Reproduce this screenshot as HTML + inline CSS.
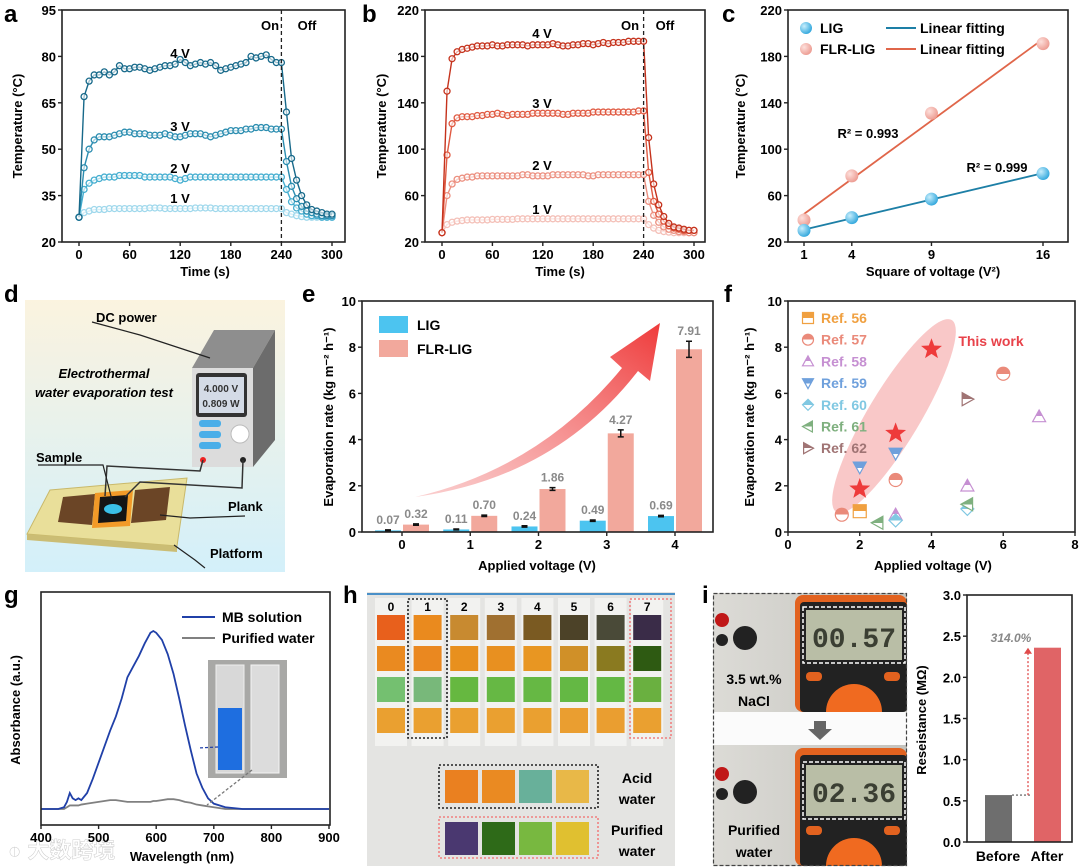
<!DOCTYPE html>
<html><head><meta charset="utf-8"><title>Figure</title>
<style>
html,body{margin:0;padding:0;background:#fff;}
svg{display:block;font-family:"Liberation Sans","Noto Sans CJK SC",sans-serif;}
text{font-weight:bold;}
</style></head>
<body>
<svg id="fig" width="1080" height="867" viewBox="0 0 1080 867" xmlns="http://www.w3.org/2000/svg">
<defs>
<radialGradient id="ballBlue" cx="0.35" cy="0.35" r="0.7"><stop offset="0" stop-color="#c8eefc"/><stop offset="1" stop-color="#2fa6dc"/></radialGradient>
<radialGradient id="ballRed" cx="0.35" cy="0.35" r="0.7"><stop offset="0" stop-color="#fde0dc"/><stop offset="1" stop-color="#ec9a90"/></radialGradient>
<linearGradient id="bgD" x1="0" y1="0" x2="0" y2="1"><stop offset="0" stop-color="#fbf3df"/><stop offset="1" stop-color="#d3f0fa"/></linearGradient>
<linearGradient id="arrowG" x1="0" y1="1" x2="1" y2="0"><stop offset="0" stop-color="#f7b0b0" stop-opacity="0.6"/><stop offset="1" stop-color="#ef3a3a"/></linearGradient>
<linearGradient id="photoI" x1="0" y1="0" x2="1" y2="0"><stop offset="0" stop-color="#dcdbd6"/><stop offset="1" stop-color="#c4c3be"/></linearGradient>
</defs>

<text x="4" y="22" font-size="24">a</text>
<text x="362" y="22" font-size="24">b</text>
<text x="722" y="22" font-size="24">c</text>
<text x="4" y="302" font-size="24">d</text>
<text x="302" y="302" font-size="24">e</text>
<text x="724" y="302" font-size="24">f</text>
<text x="4" y="603" font-size="24">g</text>
<text x="343" y="603" font-size="24">h</text>
<text x="702" y="603" font-size="24">i</text>

<g>
<rect x="25" y="300" width="260" height="272" fill="url(#bgD)"/>
<polygon points="50,490 187,478 177,546 27,534" fill="#e9df9a" stroke="#c9b96a"/>
<polygon points="27,534 177,546 177,552 27,540" fill="#cbbd74"/>
<polygon points="63,497 95,494 92,525 58,522" fill="#6b4526"/>
<polygon points="135,490 170,487 166,520 131,523" fill="#6b4526"/>
<polygon points="95,493 133,490 130,526 92,528" fill="#f29a28"/>
<polygon points="100,497 128,495 126,521 98,523" fill="#151515"/>
<ellipse cx="113" cy="509" rx="9" ry="5" fill="#3ac0e8"/>
<polygon points="192,368 253,368 275,330 214,330" fill="#8e8e8e"/>
<polygon points="253,368 275,330 275,440 253,467" fill="#6c6c6c"/>
<rect x="192" y="368" width="61" height="99" fill="#dcdcdc"/>
<rect x="196" y="373" width="51" height="44" rx="3" fill="#333"/>
<rect x="199" y="377" width="45" height="36" fill="#d4dbe6"/>
<text x="221" y="392" font-size="10" font-weight="normal" text-anchor="middle" fill="#333">4.000 V</text>
<text x="221" y="407" font-size="10" font-weight="normal" text-anchor="middle" fill="#333">0.809 W</text>
<rect x="199" y="420" width="22" height="7" rx="3" fill="#4aaee8"/>
<rect x="199" y="431" width="22" height="7" rx="3" fill="#4aaee8"/>
<rect x="199" y="442" width="22" height="7" rx="3" fill="#4aaee8"/>
<circle cx="240" cy="434" r="9" fill="#fff" stroke="#bbb"/>
<circle cx="203" cy="460" r="3" fill="#e22"/>
<circle cx="243" cy="460" r="3" fill="#222"/>
<polyline points="203,460 200,471 107,466 105,496" fill="none" stroke="#333" stroke-width="1.5"/>
<polyline points="243,460 242,488 140,482 125,497" fill="none" stroke="#333" stroke-width="1.5"/>
<polyline points="92,322 140,335 210,358" fill="none" stroke="#222" stroke-width="1.2"/>
<polyline points="38,465 103,465 112,500" fill="none" stroke="#222" stroke-width="1.2"/>
<polyline points="245,516 190,518 160,515" fill="none" stroke="#222" stroke-width="1.2"/>
<polyline points="205,568 195,560 174,545" fill="none" stroke="#222" stroke-width="1.2"/>
<text x="96" y="322" font-size="13">DC power</text>
<text x="104" y="378" font-size="13" font-style="italic" text-anchor="middle">Electrothermal</text>
<text x="104" y="397" font-size="13" font-style="italic" text-anchor="middle">water evaporation test</text>
<text x="36" y="462" font-size="13">Sample</text>
<text x="228" y="511" font-size="13">Plank</text>
<text x="210" y="558" font-size="13">Platform</text>
</g>

<g id="photoH">
<rect x="367" y="592" width="308" height="274" fill="#e4e4e2"/>
<line x1="367" y1="594" x2="675" y2="594" stroke="#4a90c8" stroke-width="2"/>
</g>

<g>
<rect x="713" y="593" width="194" height="273" fill="url(#photoI)"/>
<rect x="713" y="712" width="194" height="33" fill="#fbfbfb"/>
<polygon points="814,721 826,721 826,729 832,729 820,740 808,729 814,729" fill="#666"/>
<g>
<rect x="795" y="595" width="112" height="117" rx="8" fill="#e2621f"/>
<rect x="800" y="602" width="107" height="110" rx="4" fill="#222"/>
<rect x="806" y="610" width="96" height="50" fill="#b9bea6"/>
<rect x="803" y="607" width="102" height="56" fill="none" stroke="#fff" stroke-width="1.5" stroke-dasharray="4,2"/>
<text x="854" y="647" font-size="28" font-weight="normal" text-anchor="middle" fill="#3b3f33" font-family="Liberation Mono, monospace">00.57</text>
<rect x="806" y="672" width="16" height="9" rx="4" fill="#e2621f"/>
<rect x="884" y="672" width="16" height="9" rx="4" fill="#e2621f"/>
<path d="M826,712 A28,28 0 0 1 882,712 Z" fill="#f06a20"/>
<circle cx="745" cy="638" r="12" fill="#222"/><circle cx="722" cy="620" r="7" fill="#c01818"/><circle cx="722" cy="640" r="6" fill="#222"/>
</g>
<g>
<rect x="795" y="748" width="112" height="118" rx="8" fill="#e2621f"/>
<rect x="800" y="755" width="107" height="111" rx="4" fill="#222"/>
<rect x="806" y="765" width="96" height="51" fill="#b9bea6"/>
<rect x="803" y="762" width="102" height="57" fill="none" stroke="#fff" stroke-width="1.5" stroke-dasharray="4,2"/>
<text x="854" y="802" font-size="28" font-weight="normal" text-anchor="middle" fill="#3b3f33" font-family="Liberation Mono, monospace">02.36</text>
<rect x="806" y="826" width="16" height="9" rx="4" fill="#e2621f"/>
<rect x="884" y="826" width="16" height="9" rx="4" fill="#e2621f"/>
<path d="M826,866 A28,28 0 0 1 882,866 Z" fill="#f06a20"/>
<circle cx="745" cy="792" r="12" fill="#222"/><circle cx="722" cy="774" r="7" fill="#c01818"/><circle cx="722" cy="794" r="6" fill="#222"/>
</g>
<text x="754" y="684" font-size="14" text-anchor="middle">3.5 wt.%</text>
<text x="754" y="706" font-size="14" text-anchor="middle">NaCl</text>
<text x="754" y="835" font-size="14" text-anchor="middle">Purified</text>
<text x="754" y="857" font-size="14" text-anchor="middle">water</text>
<rect x="713.5" y="593.5" width="193" height="272" fill="none" stroke="#444" stroke-width="1.2" stroke-dasharray="4,2"/>
</g>

<text x="8" y="858" font-size="22" fill="#fff" fill-opacity="0.85" stroke="#ccc" stroke-width="0.5">◐ 大数跨境</text>
</svg>

<script>
const NS='http://www.w3.org/2000/svg';
const svg=document.getElementById('fig');
function mk(tag,attrs,parent){const e=document.createElementNS(NS,tag);for(const k in attrs)e.setAttribute(k,attrs[k]);(parent||svg).appendChild(e);return e;}
function txt(x,y,s,attrs,parent){const e=mk('text',Object.assign({x:x,y:y},attrs||{}),parent);e.textContent=s;return e;}
function lin(d0,d1,r0,r1){return v=>r0+(v-d0)*(r1-r0)/(d1-d0);}

const timeS=Array.from({length:51},(_,i)=>i*6);
const aTemp4=[28,67,72,74,74,75,74,75,77,76,76,76.5,76.5,76,75.5,76,76.5,77,77,77.5,79,78,77,77.5,78,77.5,78,77,75.5,76,76.5,77,77.5,78,80,79.5,80,80.5,79,78,78,62,47,40,35,32,30.5,30,29.5,29,29];
const aTemp3=[28,44,50,53,54,54,54,54.5,55,55.5,55.5,55,55,55,54.5,54.5,54.5,55,54.5,54,54,54.5,55,55,55,54.5,54,54.5,55,55.5,56,56,56,56.5,56.5,57,57,57,56.5,56.5,56.5,46,38,34,31.5,30,29.5,29,28.5,28.5,28.5];
const aTemp2=[28,37,39,40,40.5,41,41,41,41.5,41.5,41.5,41.5,41.5,41,41,41,41,41,41,40.5,40,40.5,41,41,41,41,41,41,41,41,41,41,41,41,41,41,41,41,41,41,41,37,33,31,30,29,28.5,28.5,28,28,28];
const aTemp1=[28,29.5,30,30.5,30.5,30.5,30.8,30.8,30.8,30.8,30.8,30.8,30.8,30.8,31,31,31,30.8,30.8,30.8,30.8,30.8,30.8,31,31,31,31,30.8,30.8,30.8,30.8,30.8,30.8,30.8,30.8,30.8,30.8,30.8,30.8,30.8,30.8,29.5,29,28.5,28.2,28,28,28,28,28,28];
const bTemp4=[28,150,178,184,186,187,188,189,189,189,190,189,189,190,190,190,190,189,190,190,190,190,191,190,189,189,190,190,191,191,190,191,192,191,192,192,192,193,193,193,193,110,70,52,42,36,33,32,31,30,30];
const bTemp3=[28,95,122,127,128,128,128,129,129,130,130,131,130,129,130,130,130,130,131,131,131,131,131,131,130,130,131,131,131,131,132,132,132,132,132,132,132,132,132,133,133,80,55,44,38,34,32,31,30,30,30];
const bTemp2=[28,60,70,74,75,76,76,77,77,77,77,77,77,77,77,77,78,78,77,77,77,77,78,78,78,78,78,78,78,77,77,78,78,78,78,78,78,78,78,78,78,55,43,37,33,31,30,29,29,28,28];
const bTemp1=[28,35,37,38,38.5,39,39,39,39,39,39.5,39.5,39.5,39.5,39.5,40,40,40,40,40,40,40,40,40,40,40,40,40,40,40,40,40,40,40,40,40,40,40,40,40,40,35,32,30,29,28.5,28,28,28,28,28];
const tempTicksA=[20,35,50,65,80,95];
const tempTicksB=[20,60,100,140,180,220];
const timeTicks=[0,60,120,180,240,300];
const sqV=[1,4,9,16];
const ligTemp=[30,41,57,79];
const flrTemp=[39,77,131,191];
const voltCats=[0,1,2,3,4];
const ligRate=[0.07,0.11,0.24,0.49,0.69];
const flrRate=[0.32,0.70,1.86,4.27,7.91];
const ligErr=[0.02,0.02,0.03,0.03,0.03];
const flrErr=[0.03,0.03,0.06,0.15,0.35];
const rateTicks=[0,2,4,6,8,10];
const voltTicksF=[0,2,4,6,8];
const refNames=['Ref. 56','Ref. 57','Ref. 58','Ref. 59','Ref. 60','Ref. 61','Ref. 62'];
const refVolt=[[2],[1.5,3,6],[3,5,7],[2,3],[3,5],[2.5,5],[5]];
const refRate=[[0.9],[0.75,2.25,6.85],[0.75,2,5],[2.8,3.4],[0.5,1.0],[0.4,1.2],[5.75]];
const thisVolt=[2,3,4];
const thisRate=[1.86,4.27,7.91];
const wavelength=[400,430,440,445,450,455,460,465,470,480,490,500,510,520,530,540,550,560,570,580,590,595,600,610,620,630,640,650,660,670,680,690,700,720,750,800,900];
const mbAbs=[0,0,0.01,0.04,0.09,0.06,0.05,0.06,0.05,0.09,0.17,0.26,0.35,0.44,0.52,0.62,0.74,0.80,0.86,0.93,0.99,1.0,0.99,0.95,0.87,0.76,0.62,0.47,0.33,0.20,0.12,0.06,0.03,0.01,0,0,0];
const waterAbs=[0,0,0,0.01,0.02,0.02,0.02,0.02,0.025,0.03,0.035,0.04,0.045,0.05,0.05,0.045,0.04,0.04,0.04,0.04,0.04,0.045,0.045,0.05,0.055,0.055,0.05,0.04,0.035,0.025,0.02,0.015,0.01,0,0,0,0];
const waveTicks=[400,500,600,700,800,900];
const resLabels=['Before','After'];
const resValues=[0.57,2.36];
const resTicks=[0,0.5,1.0,1.5,2.0,2.5,3.0];

function frame(l,t,r,b,name){
  const e=mk('rect',{x:l,y:t,width:r-l,height:b-t,fill:'none',stroke:'#222','stroke-width':1.6});
  
  
}
function xTicks(ticks,xs,b,fmt,name,y){
  const g=mk('g',{});
  
  
  ticks.forEach(v=>{mk('line',{x1:xs(v),x2:xs(v),y1:b,y2:b+4,stroke:'#222','stroke-width':1.4},g);
    txt(xs(v),y||b+17,fmt?fmt(v):String(v),{'font-size':13,'text-anchor':'middle'},g);});
}
function yTicks(ticks,ys,l,fmt,name,show){
  const g=mk('g',{});
  
  
  ticks.forEach(v=>{mk('line',{x1:l-4,x2:l,y1:ys(v),y2:ys(v),stroke:'#222','stroke-width':1.4},g);
    if(show!==false)txt(l-6,ys(v)+5,fmt?fmt(v):String(v),{'font-size':13,'text-anchor':'end'},g);});
}
function yTitle(x,y,s,name){
  const e=txt(x,y,s,{'font-size':13,'text-anchor':'middle',transform:'rotate(-90 '+x+' '+y+')'});
  
  
  return e;
}
function label(x,y,s,name,extra){
  const e=txt(x,y,s,Object.assign({'font-size':13,'text-anchor':'middle'},extra||{}));
  
  
  return e;
}
function timeSeries(xs,ys,vals,color,name){
  const g=mk('g',{});
  
  
  const pts=timeS.map((t,i)=>xs(t)+','+ys(vals[i])).join(' ');
  mk('polyline',{points:pts,fill:'none',stroke:color,'stroke-width':1.4},g);
  timeS.forEach((t,i)=>{
    const c=mk('circle',{cx:xs(t),cy:ys(vals[i]),r:3,fill:'#fff','fill-opacity':0.6,stroke:color,'stroke-width':1.3},g);
    
    
  });
}

(function(){
  const xs=lin(0,300,79,332), ys=lin(20,95,242,10);
  timeSeries(xs,ys,aTemp1,'#9fd8ec','series-a-1v');
  timeSeries(xs,ys,aTemp2,'#45aed0','series-a-2v');
  timeSeries(xs,ys,aTemp3,'#2b8db0','series-a-3v');
  timeSeries(xs,ys,aTemp4,'#17698a','series-a-4v');
  const d=mk('line',{x1:xs(240),x2:xs(240),y1:10,y2:242,stroke:'#222','stroke-dasharray':'4,3','stroke-width':1.3});
  
  
  frame(62,10,345,242,'plot-frame-a');
  xTicks(timeTicks,xs,242,null,'x-axis-a');
  yTicks(tempTicksA,ys,62,null,'y-axis-a');
  yTitle(22,126,'Temperature (°C)','y-axis-title-a');
  label(205,276,'Time (s)','x-axis-title-a');
  label(180,58,'4 V','label-4v-a');label(180,131,'3 V','label-3v-a');label(180,173,'2 V','label-2v-a');label(180,203,'1 V','label-1v-a');
  label(270,30,'On','on-label-a');label(307,30,'Off','off-label-a');
})();

(function(){
  const xs=lin(0,300,442,694), ys=lin(20,220,242,10);
  timeSeries(xs,ys,bTemp1,'#f4c0b8','series-b-1v');
  timeSeries(xs,ys,bTemp2,'#ec9080','series-b-2v');
  timeSeries(xs,ys,bTemp3,'#e05a42','series-b-3v');
  timeSeries(xs,ys,bTemp4,'#c5321c','series-b-4v');
  const d=mk('line',{x1:xs(240),x2:xs(240),y1:10,y2:242,stroke:'#222','stroke-dasharray':'4,3','stroke-width':1.3});
  
  
  frame(425,10,705,242,'plot-frame-b');
  xTicks(timeTicks,xs,242,null,'x-axis-b');
  yTicks(tempTicksB,ys,425,null,'y-axis-b');
  yTitle(386,126,'Temperature (°C)','y-axis-title-b');
  label(560,276,'Time (s)','x-axis-title-b');
  label(542,38,'4 V','label-4v-b');label(542,108,'3 V','label-3v-b');label(542,170,'2 V','label-2v-b');label(542,214,'1 V','label-1v-b');
  label(630,30,'On','on-label-b');label(665,30,'Off','off-label-b');
})();

(function(){
  const xs=lin(1,16,804,1043), ys=lin(20,220,242,10);
  function fit(y){const n=sqV.length,mx=sqV.reduce((a,b)=>a+b)/n,my=y.reduce((a,b)=>a+b)/n;
    let sxy=0,sxx=0;sqV.forEach((x,i)=>{sxy+=(x-mx)*(y[i]-my);sxx+=(x-mx)*(x-mx);});const k=sxy/sxx;return [k,my-k*mx];}
  [[flrTemp,'#e0664a','url(#ballRed)','flr-lig'],[ligTemp,'#1d7fa6','url(#ballBlue)','lig']].forEach(s=>{
    const f=fit(s[0]);
    const l=mk('line',{x1:xs(1),y1:ys(f[0]*1+f[1]),x2:xs(16),y2:ys(f[0]*16+f[1]),stroke:s[1],'stroke-width':1.8});
    
    
    sqV.forEach((x,i)=>{const c=mk('circle',{cx:xs(x),cy:ys(s[0][i]),r:6.5,fill:s[2]});
      
      });
  });
  frame(788,10,1068,242,'plot-frame-c');
  xTicks(sqV,xs,242,null,'x-axis-c');
  yTicks(tempTicksB,ys,788,null,'y-axis-c');
  yTitle(745,126,'Temperature (°C)','y-axis-title-c');
  label(933,276,'Square of voltage (V²)','x-axis-title-c');
  const g=mk('g',{});
  
  
  mk('circle',{cx:806,cy:28,r:6,fill:'url(#ballBlue)'},g);txt(820,33,'LIG',{'font-size':14},g);
  mk('circle',{cx:806,cy:49,r:6,fill:'url(#ballRed)'},g);txt(820,54,'FLR-LIG',{'font-size':14},g);
  mk('line',{x1:886,x2:916,y1:28,y2:28,stroke:'#1d7fa6','stroke-width':2},g);txt(920,33,'Linear fitting',{'font-size':14},g);
  mk('line',{x1:886,x2:916,y1:49,y2:49,stroke:'#e0664a','stroke-width':2},g);txt(920,54,'Linear fitting',{'font-size':14},g);
  label(868,138,'R² = 0.993','r2-flr');
  label(997,172,'R² = 0.999','r2-lig');
})();

(function(){
  const xs=lin(0,4,402,675), ys=lin(0,10,532,301);
  const ar=mk('path',{d:'M415,497 Q540,468 622,368 L610,357 L660,323 L650,381 L638,371 Q555,478 415,497 Z',fill:'url(#arrowG)'});
  
  
  voltCats.forEach((c,i)=>{
    [[ligRate,ligErr,'#4cc4f0',-27,'lig'],[flrRate,flrErr,'#f2a89c',1,'flr-lig']].forEach(s=>{
      const v=s[0][i],x=xs(c)+s[3];
      const b=mk('rect',{x:x,y:ys(v),width:26,height:ys(0)-ys(v),fill:s[2]});
      
      
      const e=s[1][i],cx=x+13;
      mk('path',{d:'M'+(cx-3)+','+ys(v+e)+'h6M'+cx+','+ys(v+e)+'V'+ys(v-e)+'M'+(cx-3)+','+ys(v-e)+'h6',stroke:'#111','stroke-width':1.5,fill:'none'});
      const t=txt(cx,ys(v+e)-6,v.toFixed(2),{'font-size':12,'text-anchor':'middle',fill:'#8a8a8a'});
      
      
    });
  });
  frame(362,301,713,532,'plot-frame-e');
  xTicks(voltCats,xs,532,null,'x-axis-e',549);
  yTicks(rateTicks,ys,362,null,'y-axis-e');
  yTitle(333,417,'Evaporation rate (kg m⁻² h⁻¹)','y-axis-title-e');
  label(537,570,'Applied voltage (V)','x-axis-title-e');
  const g=mk('g',{});
  
  
  mk('rect',{x:379,y:316,width:29,height:17,fill:'#4cc4f0'},g);txt(417,330,'LIG',{'font-size':14},g);
  mk('rect',{x:379,y:340,width:29,height:17,fill:'#f2a89c'},g);txt(417,354,'FLR-LIG',{'font-size':14},g);
})();

(function(){
  const xs=lin(0,8,788,1075), ys=lin(0,10,532,301);
  const el=mk('ellipse',{cx:894,cy:416,rx:112,ry:26,fill:'#f7b6b6','fill-opacity':0.75,transform:'rotate(-59 894 416)'});
  
  
  const colors=['#f0a040','#ea8a7a','#c690d2','#6fa0dc','#80c8e2','#7fb07f','#a07474'];
  const defs=svg.querySelector('defs');
  colors.forEach((c,i)=>{const lg=mk('linearGradient',{id:'half'+i,x1:0,y1:0,x2:0,y2:1},defs);
    mk('stop',{offset:0.5,'stop-color':c},lg);mk('stop',{offset:0.5,'stop-color':'#fff'},lg);});
  function shape(k,x,y,s,parent){
    const f='url(#half'+k+')',st=colors[k];
    let d;
    if(k===0)d='M'+(x-s)+','+(y-s)+'h'+2*s+'v'+2*s+'h'+(-2*s)+'Z';
    else if(k===1)return mk('circle',{cx:x,cy:y,r:s,fill:f,stroke:st,'stroke-width':1.2},parent);
    else if(k===2)d='M'+x+','+(y-s)+'L'+(x+s)+','+(y+s*0.8)+'L'+(x-s)+','+(y+s*0.8)+'Z';
    else if(k===3)d='M'+(x-s)+','+(y-s*0.8)+'L'+(x+s)+','+(y-s*0.8)+'L'+x+','+(y+s)+'Z';
    else if(k===4)d='M'+x+','+(y-s)+'L'+(x+s)+','+y+'L'+x+','+(y+s)+'L'+(x-s)+','+y+'Z';
    else if(k===5)d='M'+(x-s)+','+y+'L'+(x+s*0.8)+','+(y-s)+'L'+(x+s*0.8)+','+(y+s)+'Z';
    else d='M'+(x+s)+','+y+'L'+(x-s*0.8)+','+(y-s)+'L'+(x-s*0.8)+','+(y+s)+'Z';
    return mk('path',{d:d,fill:f,stroke:st,'stroke-width':1.2},parent);
  }
  refNames.forEach((n,k)=>{
    refVolt[k].forEach((v,j)=>{const m=shape(k,xs(v),ys(refRate[k][j]),6.5);
      
      });
    const lm=shape(k,808,318+k*21.7,5.5);
    
    
    const lt=txt(821,323+k*21.7,n,{'font-size':14,fill:colors[k]});
    
    
  });
  thisVolt.forEach((v,i)=>{
    const x=xs(v),y=ys(thisRate[i]),R=11,r=4.6;let p='';
    for(let q=0;q<10;q++){const a=-Math.PI/2+q*Math.PI/5,rr=q%2?r:R;p+=(x+rr*Math.cos(a))+','+(y+rr*Math.sin(a))+' ';}
    const s=mk('polygon',{points:p,fill:'#ee3b3b'});
    
    
  });
  label(991,346,'This work','this-work-label',{fill:'#e8424a','font-size':14});
  frame(788,301,1075,532,'plot-frame-f');
  xTicks(voltTicksF,xs,532,null,'x-axis-f',549);
  yTicks(rateTicks,ys,788,null,'y-axis-f');
  yTitle(754,417,'Evaporation rate (kg m⁻² h⁻¹)','y-axis-title-f');
  label(933,570,'Applied voltage (V)','x-axis-title-f');
})();

(function(){
  const xs=lin(400,900,41,329), ys=lin(0,1,809,631);
  [[waterAbs,'#808080','purified-water'],[mbAbs,'#2040a8','mb-solution']].forEach(s=>{
    const p=mk('polyline',{points:wavelength.map((w,i)=>xs(w)+','+ys(s[0][i])).join(' '),fill:'none',stroke:s[1],'stroke-width':1.8});
    
    
  });
  frame(41,592,330,825,'plot-frame-g');
  xTicks(waveTicks,xs,825,null,'x-axis-g',842);
  yTitle(20,710,'Absorbance (a.u.)','y-axis-title-g');
  label(182,861,'Wavelength (nm)','x-axis-title-g');
  const g=mk('g',{});
  
  
  mk('line',{x1:182,x2:215,y1:617,y2:617,stroke:'#2040a8','stroke-width':2},g);txt(222,622,'MB solution',{'font-size':14},g);
  mk('line',{x1:182,x2:215,y1:638,y2:638,stroke:'#808080','stroke-width':2},g);txt(222,643,'Purified water',{'font-size':14},g);
  const ins=mk('g',{});
  
  
  mk('rect',{x:208,y:660,width:79,height:118,fill:'#a8a8a6'},ins);
  mk('rect',{x:216,y:665,width:28,height:108,fill:'#d8d8d8',stroke:'#eee'},ins);
  mk('rect',{x:218,y:708,width:24,height:62,fill:'#1e6ee0'},ins);
  mk('rect',{x:251,y:665,width:28,height:108,fill:'#dcdcdc',stroke:'#f4f4f4'},ins);
  mk('path',{d:'M218,747 L198,748',stroke:'#2040a8','stroke-dasharray':'3,2',fill:'none','stroke-width':1.3},ins);
  mk('path',{d:'M252,770 L207,805',stroke:'#777','stroke-dasharray':'3,2',fill:'none','stroke-width':1.3},ins);
})();

const stripColors=[
 ['#e8601c','#ea8a1e','#c88a30','#a07030','#7a5a22','#4c4228','#4a4a38','#3a2c48'],
 ['#ea8a20','#ea8820','#e8901e','#e89020','#e89622','#d09028','#8a7a20','#2e5a12'],
 ['#74c070','#78b87a','#66b840','#66b844','#66b844','#64b844','#64b844','#6ab040'],
 ['#eaa030','#eaa030','#eaa030','#eaa030','#eaa030','#ea9e30','#ea9e30','#eaa030']];
const acidColors=['#ea8020','#ea8a22','#68b09a','#e8b848'];
const purifiedColors=['#4a3870','#2e6a18','#78b840','#e0c030'];
(function(){
  const ph=document.getElementById('photoH');
  for(let c=0;c<8;c++){
    const x=377+c*36.6;
    mk('rect',{x:x-2,y:598,width:32,height:148,fill:'#f2f2f0'},ph);
    const n=txt(x+14,611,String(c),{'font-size':12,'text-anchor':'middle'},ph);
    
    
    stripColors.forEach((row,r)=>{const s=mk('rect',{x:x,y:615+r*31,width:28,height:25,fill:row[c]},ph);
      
      });
  }
  acidColors.forEach((col,j)=>{const s=mk('rect',{x:445+j*37,y:770,width:33,height:33,fill:col},ph);
    
    });
  purifiedColors.forEach((col,j)=>{const s=mk('rect',{x:445+j*37,y:822,width:33,height:33,fill:col},ph);
    
    });
  mk('rect',{x:408,y:599,width:39,height:139,fill:'none',stroke:'#222','stroke-width':1.6,'stroke-dasharray':'2,2'},ph);
  mk('rect',{x:630,y:599,width:41,height:139,fill:'none',stroke:'#f08080','stroke-width':1.6,'stroke-dasharray':'2,2'},ph);
  mk('rect',{x:439,y:765,width:159,height:43,fill:'none',stroke:'#222','stroke-width':1.6,'stroke-dasharray':'2,2'},ph);
  mk('rect',{x:439,y:817,width:159,height:41,fill:'none',stroke:'#f08080','stroke-width':1.6,'stroke-dasharray':'2,2'},ph);
  [['Acid',783],['water',804],['Purified',835],['water',856]].forEach(a=>{
    const t=txt(637,a[1],a[0],{'font-size':14,'text-anchor':'middle'},ph);
    
    });
})();

(function(){
  const ys=lin(0,3,842,595), xc=[998,1047];
  const cols=['#6e6e6e','#e06466'];
  resLabels.forEach((l,i)=>{
    const b=mk('rect',{x:xc[i]-13,y:ys(resValues[i]),width:27,height:ys(0)-ys(resValues[i]),fill:cols[i]});
    
    
  });
  const h=mk('line',{x1:xc[0]+14,x2:1030,y1:ys(resValues[0]),y2:ys(resValues[0]),stroke:'#555','stroke-dasharray':'2,2','stroke-width':1.2});
  
  
  const v=mk('line',{x1:1028,x2:1028,y1:ys(resValues[0]),y2:ys(resValues[1])+5,stroke:'#e04a4a','stroke-dasharray':'2,2','stroke-width':1.3});
  
  
  mk('polygon',{points:'1024,'+(ys(resValues[1])+6)+' 1032,'+(ys(resValues[1])+6)+' 1028,'+ys(resValues[1]),fill:'#e04a4a'});
  label(1011,642,'314.0%','increase-percent',{fill:'#888','font-style':'italic','font-size':12});
  frame(967,595,1072,842,'plot-frame-i');
  yTicks(resTicks,ys,967,v=>v.toFixed(1),'y-axis-i');
  resLabels.forEach((l,i)=>label(xc[i],861,l,'x-label-'+l.toLowerCase(),{'font-size':14}));
  yTitle(926,720,'Reseistance (MΩ)','y-axis-title-i');
})();
</script>
</body></html>
